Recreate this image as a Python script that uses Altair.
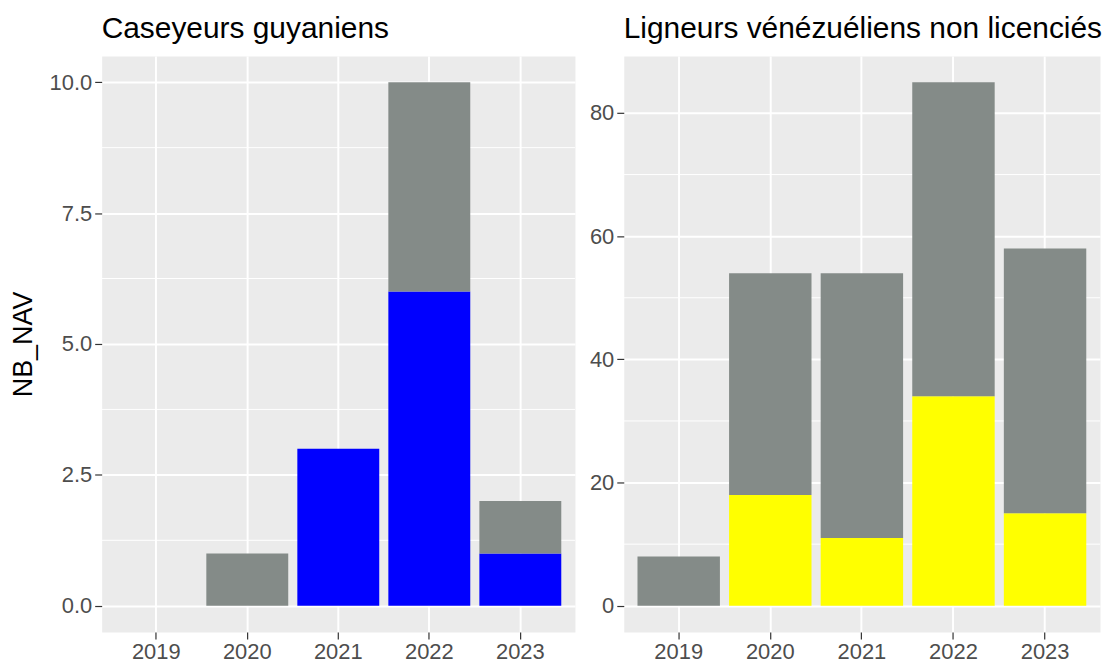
import altair as alt
import pandas as pd

# ---- data ----
years = ["2019", "2020", "2021", "2022", "2023"]

case_title = "Caseyeurs guyaniens"
case_total = [0, 1, 3, 10, 2]
case_colored = [0, 0, 3, 6, 1]

lign_title = "Ligneurs vénézuéliens non licenciés"
lign_total = [8, 54, 54, 85, 58]
lign_colored = [0, 18, 11, 34, 15]

case_ticks = [0, 2.5, 5, 7.5, 10]
case_minor = [1.25, 3.75, 6.25, 8.75]
lign_ticks = [0, 20, 40, 60, 80]
lign_minor = [10, 30, 50, 70]

GREY = "#848b88"
FONT = "Liberation Sans"


def make_df(total, colored):
    rows = []
    for y, t, c in zip(years, total, colored):
        rows.append({"ANNEE": y, "type": "colored", "NB_NAV": c, "ord": 0})
        rows.append({"ANNEE": y, "type": "autre", "NB_NAV": t - c, "ord": 1})
    return pd.DataFrame(rows)


def panel(total, colored, color, title, ticks, minor, ytitle, fmt, width):
    df = make_df(total, colored)
    maxv = max(total)
    pad = 0.05 * maxv
    domain = [-pad, maxv + pad]
    yscale = alt.Scale(domain=domain, nice=False, zero=False)

    if ytitle:
        yaxis = alt.Axis(values=ticks, format=fmt, title=ytitle)
    else:
        yaxis = alt.Axis(values=ticks, format=fmt, title=None)

    rules = alt.Chart(pd.DataFrame({"NB_NAV": minor})).mark_rule(
        color="white", strokeWidth=1
    ).encode(y=alt.Y("NB_NAV:Q", scale=yscale, axis=yaxis))

    bars = alt.Chart(df).mark_bar().encode(
        x=alt.X(
            "ANNEE:N",
            sort=years,
            scale=alt.Scale(domain=years, paddingInner=0.1, paddingOuter=0.15),
            axis=alt.Axis(title=None, labelAngle=0, bandPosition=0.5, grid=True),
        ),
        y=alt.Y("NB_NAV:Q", stack="zero", scale=yscale, axis=yaxis),
        color=alt.Color(
            "type:N",
            scale=alt.Scale(domain=["colored", "autre"], range=[color, GREY]),
            legend=None,
        ),
        order=alt.Order("ord:Q", sort="ascending"),
    )

    return alt.layer(rules, bars).properties(
        width=width, height=578, title=alt.TitleParams(title, anchor="start", frame="group")
    )


left = panel(case_total, case_colored, "#0000ff", case_title, case_ticks, case_minor, "NB_NAV", ".1f", 475)
right = panel(lign_total, lign_colored, "#ffff00", lign_title, lign_ticks, lign_minor, None, "d", 478)

chart = alt.hconcat(left, right, spacing=13).resolve_scale(
    y="independent", color="independent"
).properties(
    padding={"left": 0, "top": 4, "right": 0, "bottom": 0}
).configure_view(
    fill="#EBEBEB", stroke="transparent"
).configure_axis(
    labelFont=FONT,
    labelFontSize=22,
    labelColor="#4D4D4D",
    tickColor="#333333",
    tickSize=7,
    tickWidth=1.2,
    domain=False,
    gridColor="white",
    gridWidth=2,
    labelPadding=3,
    titleFont=FONT,
    titleFontSize=27,
    titleFontWeight="normal",
    titleColor="black",
    titlePadding=12,
).configure_title(
    font=FONT, fontSize=30, fontWeight="normal", color="black", offset=12
)

chart.save("out.html", embed_options={"renderer": "svg", "actions": False})
